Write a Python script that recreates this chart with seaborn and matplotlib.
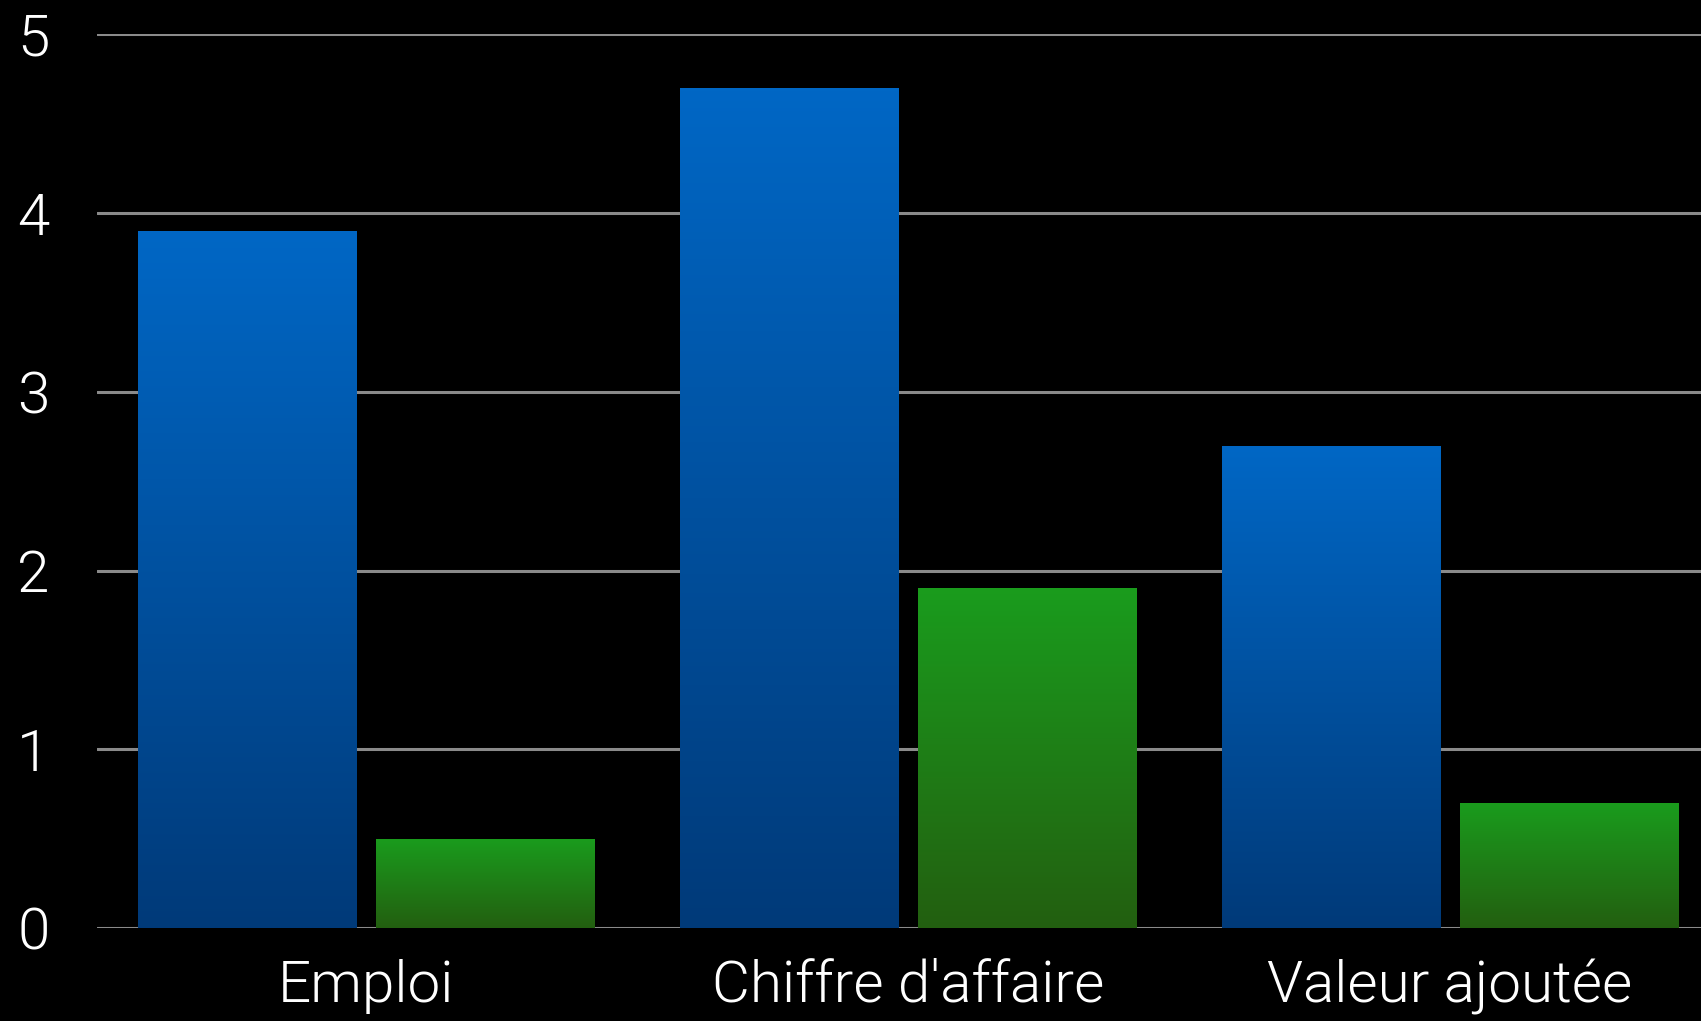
import matplotlib
matplotlib.use("Agg")
import matplotlib.pyplot as plt
import numpy as np
import pandas as pd
import seaborn as sns
from matplotlib.colors import LinearSegmentedColormap

# data
categories = ["Emploi", "Chiffre d'affaire", "Valeur ajoutée"]
series_names = ["Série 1", "Série 2"]
series_1 = [3.9, 4.7, 2.7]
series_2 = [0.5, 1.9, 0.7]
y_ticks = [0, 1, 2, 3, 4, 5]

df = pd.DataFrame({
    "categorie": categories * 2,
    "serie": [series_names[0]] * len(categories) + [series_names[1]] * len(categories),
    "valeur": series_1 + series_2,
})

sns.set_style("dark")
plt.rcParams["font.family"] = ["Roboto", "DejaVu Sans"]

# (top, bottom) colours of each series gradient
gradients = [("#0067c5", "#003a79"), ("#1a9c1d", "#235f10")]

fig = plt.figure(figsize=(17.01, 10.21), dpi=100, facecolor="black")
ax = fig.add_axes([96.7 / 1701, 1 - 928 / 1021, 1 - 96.7 / 1701, (928 - 34.5) / 1021])
ax.set_facecolor("black")

sns.barplot(data=df, x="categorie", y="valeur", hue="serie",
            palette=[g[0] for g in gradients], width=0.88, gap=0.084,
            saturation=1, legend=False, ax=ax)

# replace flat fills by vertical gradients
grad = np.linspace(0, 1, 256).reshape(-1, 1)
for container, (top, bottom) in zip(ax.containers, gradients):
    cmap = LinearSegmentedColormap.from_list("g", [bottom, top])
    for bar in container:
        x0, y0 = bar.get_x(), bar.get_y()
        w, h = bar.get_width(), bar.get_height()
        im = ax.imshow(grad, extent=[x0, x0 + w, y0, y0 + h], origin="lower",
                       aspect="auto", cmap=cmap, zorder=bar.get_zorder())
        im.set_clip_path(bar)
        bar.set_facecolor("none")
        bar.set_edgecolor("none")

ax.set_xlim(-0.497, 2.463)
ax.set_ylim(0, 5)
ax.set_yticks(y_ticks)
ax.set_xlabel("")
ax.set_ylabel("")

ax.yaxis.grid(True, color="#8a8a8a", linewidth=2.2)
ax.xaxis.grid(False)
ax.set_axisbelow(True)
for s in ax.spines.values():
    s.set_visible(False)

ax.tick_params(axis="y", length=0, pad=34, labelsize=42, labelcolor="white")
ax.tick_params(axis="x", length=0, pad=22, labelsize=42, labelcolor="white")
for lab in ax.get_xticklabels() + ax.get_yticklabels():
    lab.set_fontweight(300)

fig.savefig("out.png", dpi=100, facecolor="black")
